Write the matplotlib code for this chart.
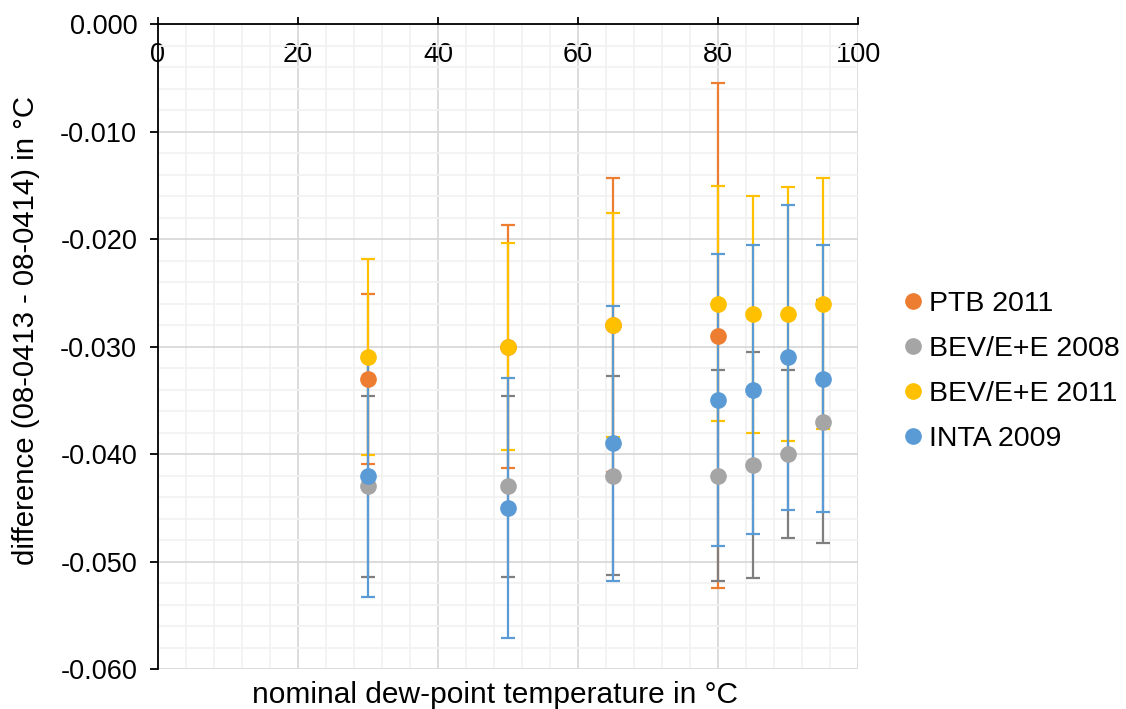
import matplotlib
matplotlib.use("Agg")
import matplotlib.pyplot as plt
from matplotlib.ticker import MultipleLocator, FuncFormatter

plt.rcParams['font.family'] = ['Liberation Sans', 'DejaVu Sans']

# dados
x_ptb = [30, 50, 65, 80]
y_ptb = [-0.033, -0.030, -0.028, -0.029]
e_ptb = [0.0079, 0.0113, 0.0137, 0.0235]

x_bev = [30, 50, 65, 80, 85, 90, 95]
y_bev08 = [-0.043, -0.043, -0.042, -0.042, -0.041, -0.040, -0.037]
e_bev08 = [0.0084, 0.0084, 0.0093, 0.0098, 0.0105, 0.0078, 0.0113]

y_bev11 = [-0.031, -0.030, -0.028, -0.026, -0.027, -0.027, -0.026]
e_bev11 = [0.0091, 0.0096, 0.0104, 0.0109, 0.0110, 0.0118, 0.0117]

x_inta = [30, 50, 65, 80, 85, 90, 95]
y_inta = [-0.042, -0.045, -0.039, -0.035, -0.034, -0.031, -0.033]
e_inta = [0.0113, 0.0121, 0.0128, 0.0136, 0.0134, 0.0142, 0.0124]

series = [
    ("PTB 2011", x_ptb, y_ptb, e_ptb, "#ED7D31", "#ED7D31"),
    ("BEV/E+E 2008", x_bev, y_bev08, e_bev08, "#A5A5A5", "#7F7F7F"),
    ("BEV/E+E 2011", x_bev, y_bev11, e_bev11, "#FFC000", "#FFC000"),
    ("INTA 2009", x_inta, y_inta, e_inta, "#5B9BD5", "#5B9BD5"),
]

fig = plt.figure(figsize=(11.26, 7.09), dpi=100)
ax = fig.add_axes([0.1403, 0.0564, 0.6217, 0.9097])

# barras de erro primeiro, depois os marcadores
for name, xs, ys, es, cor, cor_err in series:
    ax.errorbar(xs, ys, yerr=es, fmt='none', ecolor=cor_err, elinewidth=1.6,
                capsize=4.8, capthick=1.6, zorder=3)

handles = []
for name, xs, ys, es, cor, cor_err in series:
    h, = ax.plot(xs, ys, 'o', color=cor, markersize=11, label=name, zorder=4)
    handles.append(h)

ax.set_xlim(0, 100)
ax.set_ylim(-0.060, 0.000)
ax.xaxis.set_major_locator(MultipleLocator(20))
ax.xaxis.set_minor_locator(MultipleLocator(4))
ax.yaxis.set_major_locator(MultipleLocator(0.010))
ax.yaxis.set_minor_locator(MultipleLocator(0.002))
ax.yaxis.set_major_formatter(FuncFormatter(lambda v, p: "{:.3f}".format(v).replace("-0.000", "0.000")))

ax.grid(which='major', color='#D9D9D9', linewidth=1.3, zorder=0)
ax.grid(which='minor', color='#F2F2F2', linewidth=1.3, zorder=0)
ax.set_axisbelow(True)

for s in ['bottom', 'right']:
    ax.spines[s].set_visible(False)
for s in ['top', 'left']:
    ax.spines[s].set_color('black')
    ax.spines[s].set_linewidth(1.3)

ax.tick_params(axis='x', which='major', top=True, bottom=False, labeltop=True, labelbottom=False,
               direction='out', length=5, width=1.3, pad=-37, labelsize=19.5)
ax.tick_params(axis='x', which='minor', top=False, bottom=False)
ax.tick_params(axis='y', which='major', left=True, direction='out', length=6, width=1.3,
               pad=9, labelsize=19.5)
ax.tick_params(axis='y', which='minor', left=False)

ax.set_xlabel("nominal dew-point temperature in °C", fontsize=21.5, labelpad=3)
ax.xaxis.label.set_x(0.482)
ax.set_ylabel("difference (08-0413 - 08-0414) in °C", fontsize=21.2)
ax.yaxis.set_label_coords(-0.168, 0.525)

fig.legend(handles=handles, loc='center left', bbox_to_anchor=(0.782, 0.476),
           frameon=False, fontsize=20.5, handlelength=0.5, handletextpad=0.3,
           labelspacing=0.67, markerscale=1.0)

fig.savefig("out.png", dpi=100)
